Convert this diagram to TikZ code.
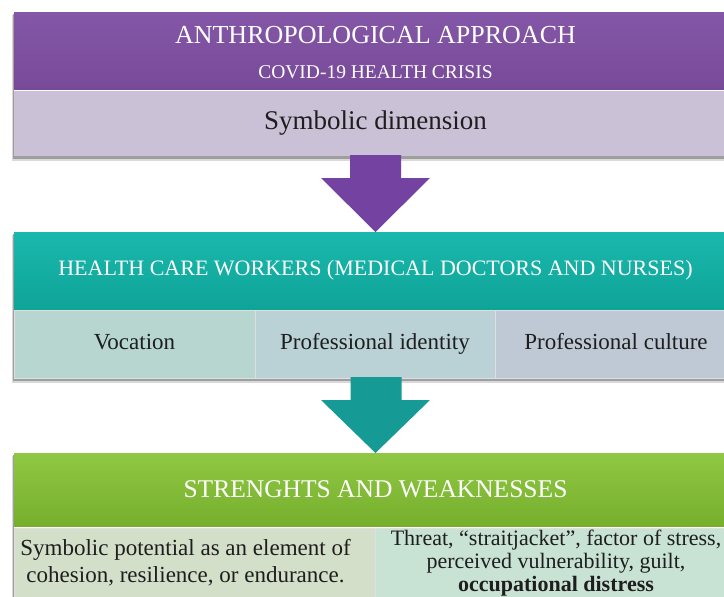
\documentclass[tikz,border=0pt]{standalone}
\usepackage{fontspec}
\setmainfont{Liberation Serif}
\usetikzlibrary{positioning,calc,backgrounds}

\definecolor{purpletop}{HTML}{8456A7}
\definecolor{purplebot}{HTML}{784B99}
\definecolor{purplebar}{HTML}{CBC1D7}
\definecolor{purplearrow}{HTML}{7442A0}
\definecolor{tealtop}{HTML}{1AB8AD}
\definecolor{tealbot}{HTML}{0FA498}
\definecolor{tealarrow}{HTML}{169A96}
\definecolor{cellA}{HTML}{B6D6CF}
\definecolor{cellB}{HTML}{BAD2D5}
\definecolor{cellC}{HTML}{BFC9D6}
\definecolor{greentop}{HTML}{90C844}
\definecolor{greenbot}{HTML}{76AF2C}
\definecolor{cellD}{HTML}{D3DFC8}
\definecolor{cellE}{HTML}{C8E2D3}
\definecolor{inktext}{HTML}{1E1E1E}

\tikzset{
  head/.style={minimum width=723pt,inner sep=0pt,outer sep=0pt,text=white,align=center},
  headtext/.style={inner sep=0pt,text=white},
  band/.style={minimum width=723pt,inner sep=0pt,outer sep=0pt,text=inktext,align=center},
  cell/.style={inner sep=0pt,outer sep=0pt,text=inktext,align=center,draw=white!75!gray,line width=0.6pt},
  rowcell/.style={cell,minimum height=68pt,text height=16pt,text depth=5pt,font=\fontsize{23}{26}\selectfont},
  shadowsoft/.style={fill=black!15},
  shadowhard/.style={fill=black!38}
}

\begin{document}
\begin{tikzpicture}[x=1pt,y=-1pt]
  \useasboundingbox (0,0) rectangle (724,597);

  % approach
  \node[head,minimum height=77pt,top color=purpletop,bottom color=purplebot,anchor=north west] (h1) at (14,12) {};
  \node[headtext,font=\fontsize{26}{30}\selectfont,anchor=base] (t1) at ($(h1.north)+(0,31.5)$) {ANTHROPOLOGICAL APPROACH};
  \node[headtext,font=\fontsize{19.5}{22}\selectfont,anchor=base] (t2) at ($(h1.north)+(0,66.5)$) {COVID-19 HEALTH CRISIS};
  \node[band,minimum height=65pt,fill=purplebar,font=\fontsize{27}{30}\selectfont,below right=2pt and 0pt of h1.south west] (b1) {Symbolic dimension};

  % health care workers
  \node[head,minimum height=77pt,top color=tealtop,bottom color=tealbot,font=\fontsize{22}{26}\selectfont,anchor=north west] (h2) at (14,232) {HEALTH CARE WORKERS (MEDICAL DOCTORS AND NURSES)};
  \node[rowcell,minimum width=241pt,fill=cellA,below right=1pt and 0pt of h2.south west] (c1) {Vocation};
  \node[rowcell,minimum width=240pt,fill=cellB,right=0pt of c1] (c2) {Professional identity};
  \node[rowcell,minimum width=242pt,fill=cellC,right=0pt of c2] (c3) {Professional culture};

  % strengths and weaknesses
  \node[head,minimum height=73pt,top color=greentop,bottom color=greenbot,font=\fontsize{25.5}{30}\selectfont,anchor=north west] (h3) at (14,453) {STRENGHTS AND WEAKNESSES};
  \node[cell,minimum height=70pt,minimum width=361pt,fill=cellD,font=\fontsize{23}{27}\selectfont,below right=2pt and 0pt of h3.south west] (s1) {Symbolic potential as an element of\hspace*{18pt}\\cohesion, resilience, or endurance.\hspace*{18pt}};
  \node[cell,minimum height=70pt,minimum width=362pt,fill=cellE,font=\fontsize{22}{23}\selectfont,right=0pt of s1] (s2) {Threat, “straitjacket”, factor of stress,\\perceived vulnerability, guilt,\\\textbf{occupational distress}};

  % block arrows
  \fill[purplearrow] ($(b1.south)+(-25.5,-1)$) |- ($(h2.north)+(-54.5,-54)$) -- (h2.north)
    -- ($(h2.north)+(54.5,-54)$) -| ($(b1.south)+(25.5,-1)$) -- cycle;
  \fill[tealarrow] ($(c2.south)+(-24.5,-1)$) |- ($(h3.north)+(-54.5,-53)$) -- (h3.north)
    -- ($(h3.north)+(54.5,-53)$) -| ($(c2.south)+(26.5,-1)$) -- cycle;

  % shadows under the three blocks
  \begin{scope}[on background layer]
    \fill[shadowsoft] ($(h1.north west)+(-2.5,3)$) rectangle ($(b1.south east)+(0,5)$);
    \fill[shadowhard] ($(h1.north west)+(-1.5,2)$) rectangle ($(b1.south east)+(0,2.5)$);
    \fill[white] (h1.north west) rectangle (b1.south east);
    \fill[shadowsoft] ($(h2.north west)+(-2.5,3)$) rectangle ($(c3.south east)+(0,5)$);
    \fill[shadowhard] ($(h2.north west)+(-1.5,2)$) rectangle ($(c3.south east)+(0,2.5)$);
    \fill[white] (h2.north west) rectangle (c3.south east);
    \fill[shadowsoft] ($(h3.north west)+(-2.5,3)$) rectangle ($(s2.south east)+(0,5)$);
    \fill[shadowhard] ($(h3.north west)+(-1.5,2)$) rectangle ($(s2.south east)+(0,2.5)$);
    \fill[white] (h3.north west) rectangle (s2.south east);
  \end{scope}
\end{tikzpicture}
\end{document}
